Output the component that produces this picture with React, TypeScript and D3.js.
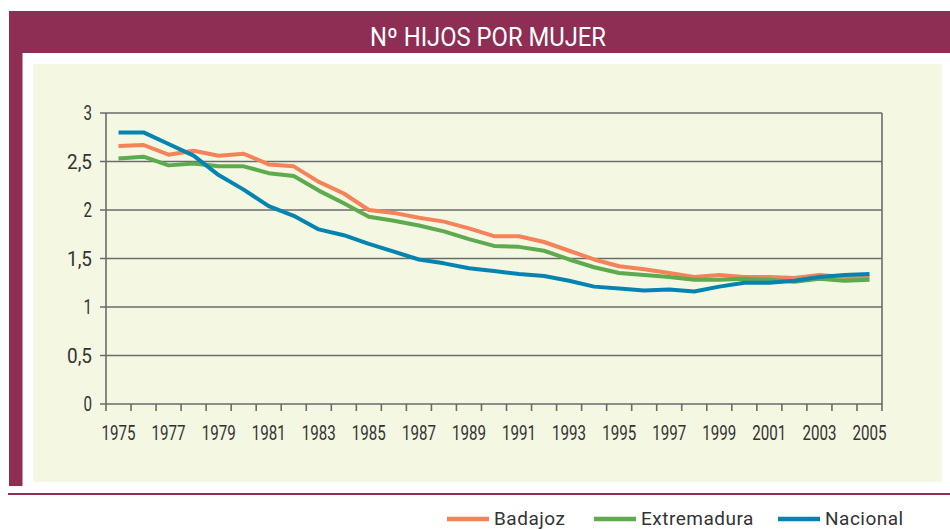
import React from "react";
import * as d3 from "d3";

const years = [1975,1976,1977,1978,1979,1980,1981,1982,1983,1984,1985,1986,1987,1988,1989,1990,1991,1992,1993,1994,1995,1996,1997,1998,1999,2000,2001,2002,2003,2004,2005];
const badajoz = [2.66,2.67,2.57,2.61,2.56,2.58,2.47,2.45,2.29,2.17,2.00,1.97,1.92,1.88,1.81,1.73,1.73,1.67,1.58,1.49,1.42,1.39,1.35,1.31,1.33,1.31,1.31,1.30,1.33,1.31,1.31];
const extremadura = [2.53,2.55,2.46,2.48,2.45,2.45,2.38,2.35,2.20,2.07,1.93,1.89,1.84,1.78,1.70,1.63,1.62,1.58,1.49,1.41,1.35,1.33,1.31,1.28,1.28,1.29,1.28,1.26,1.29,1.27,1.28];
const nacional = [2.80,2.80,2.68,2.56,2.36,2.21,2.04,1.94,1.80,1.74,1.65,1.57,1.49,1.45,1.40,1.37,1.34,1.32,1.27,1.21,1.19,1.17,1.18,1.16,1.21,1.25,1.25,1.27,1.31,1.33,1.34];
const yTicks = [0,0.5,1,1.5,2,2.5,3];
const xLabelYears = [1975,1977,1979,1981,1983,1985,1987,1989,1991,1993,1995,1997,1999,2001,2003,2005];
const seriesNames = ["Badajoz","Extremadura","Nacional"];
const seriesColors = ["#F58259","#5DAA4F","#0584B2"];
const title = "Nº HIJOS POR MUJER";

const narrow = "Roboto, 'Liberation Sans', sans-serif";

export default function App() {
  const W = 950, H = 530;
  const x = d3.scaleBand<number>().domain(years).range([106, 882]);
  const y = d3.scaleLinear().domain([0, 3]).range([404, 113]);
  const cx = (yr: number) => (x(yr) as number) + x.bandwidth() / 2;
  const line = d3.line<number>().x((_, i) => cx(years[i])).y(v => y(v));
  const data = [badajoz, extremadura, nacional];
  const tickXs = years.map(yr => x(yr) as number).concat([882]);
  const legendX = [447, 594, 778];
  const fmt = (v: number) => String(v).replace(".", ",");

  return (
    <svg width={W} height={H} style={{ position: "absolute", left: 0, top: 0 }}>
      <rect x={0} y={0} width={W} height={H} fill="#ffffff" />
      {/* header band and left strip */}
      <rect x={9} y={11} width={941} height={42} fill="#8E2E54" />
      <rect x={9} y={11} width={13.5} height={475} fill="#8E2E54" />
      <text x={488} y={46} fill="#ffffff" fontFamily={narrow} fontSize={25} textAnchor="middle"
        textLength={236} lengthAdjust="spacingAndGlyphs">{title}</text>
      {/* panel */}
      <rect x={33} y={64} width={909} height={418} fill="#F4F7E2" />
      {/* grid */}
      {yTicks.map(t => {
        const s = fmt(t);
        return (
          <g key={t}>
            <line x1={100} x2={882} y1={y(t)} y2={y(t)} stroke="#6b6b6b" strokeWidth={1.6} />
            <text x={92} y={y(t) + 7} textAnchor="end" fontFamily={narrow} fontSize={19.5} fill="#333"
              textLength={s.length === 1 ? 8.5 : 25} lengthAdjust="spacingAndGlyphs">{s}</text>
          </g>
        );
      })}
      <line x1={106} x2={106} y1={113} y2={404} stroke="#6b6b6b" strokeWidth={1.6} />
      <line x1={882} x2={882} y1={113} y2={404} stroke="#6b6b6b" strokeWidth={1.6} />
      {tickXs.map((tx, i) => (
        <line key={i} x1={tx} x2={tx} y1={404} y2={411} stroke="#6b6b6b" strokeWidth={1.6} />
      ))}
      {xLabelYears.map(yr => (
        <text key={yr} x={cx(yr)} y={440} textAnchor="middle" fontFamily={narrow} fontSize={19.5} fill="#333"
          textLength={34} lengthAdjust="spacingAndGlyphs">{yr}</text>
      ))}
      {/* series */}
      {data.map((d, i) => (
        <path key={i} d={line(d) || ""} fill="none" stroke={seriesColors[i]} strokeWidth={4} strokeLinejoin="round" />
      ))}
      {/* bottom rule */}
      <line x1={8} x2={950} y1={494} y2={494} stroke="#8E2E54" strokeWidth={2} />
      {/* legend */}
      {seriesNames.map((n, i) => (
        <g key={n}>
          <line x1={legendX[i]} x2={legendX[i] + 42} y1={519} y2={519} stroke={seriesColors[i]} strokeWidth={4.5} />
          <text x={legendX[i] + 47} y={525} fontFamily={narrow} fontSize={19} fill="#333" letterSpacing={0.5}>{n}</text>
        </g>
      ))}
    </svg>
  );
}
